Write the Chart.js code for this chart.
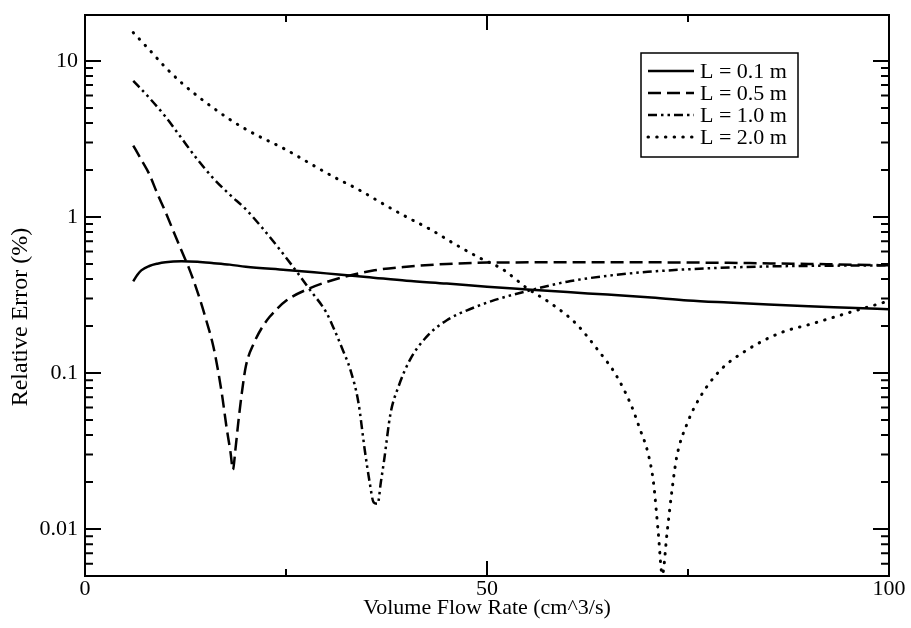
<!DOCTYPE html>
<html>
<head>
<meta charset="utf-8">
<script src="https://cdn.jsdelivr.net/npm/chart.js@4/dist/chart.umd.min.js"></script>
<style>
html, body { margin: 0; padding: 0; background: #fff; }
</style>
</head>
<body>
<canvas id="errorChart" width="911" height="628"></canvas>
<script>
// values (x = flow rate in cm^3/s, y = relative error in %)
const flowL01 = [6, 6.5, 7, 8, 9, 10, 12, 14, 16, 18, 20, 25, 30, 35, 40, 45, 50, 55, 60, 65, 70, 75, 80, 85, 90, 95, 100];
const errL01 = [0.387, 0.425, 0.455, 0.485, 0.502, 0.513, 0.52, 0.516, 0.506, 0.495, 0.48, 0.458, 0.435, 0.413, 0.39, 0.374, 0.357, 0.343, 0.33, 0.318, 0.306, 0.292, 0.283, 0.275, 0.268, 0.262, 0.256];

const flowL05 = [6, 7, 8, 9, 10, 11, 12, 13, 14, 15, 16, 17, 17.6, 18.1, 18.4, 18.7, 19.1, 19.5, 20, 21, 22, 23, 25, 28, 32, 36, 40, 45, 50, 60, 70, 80, 90, 100];
const errL05 = [2.87, 2.33, 1.88, 1.41, 1.08, 0.81, 0.61, 0.46, 0.33, 0.225, 0.145, 0.075, 0.045, 0.031, 0.024, 0.032, 0.05, 0.074, 0.11, 0.155, 0.195, 0.23, 0.29, 0.35, 0.41, 0.455, 0.48, 0.5, 0.51, 0.512, 0.512, 0.508, 0.5, 0.49];

const flowL10 = [6, 8, 10, 12, 14, 16, 18, 20, 22, 24, 26, 28, 30, 31, 32, 33, 34, 34.8, 35.4, 35.9, 36.4, 36.8, 37.2, 38, 39, 40.4, 42.5, 45, 48, 51, 55, 60, 65, 70, 78, 85, 90, 100];
const errL10 = [7.46, 5.8, 4.4, 3.2, 2.33, 1.76, 1.39, 1.12, 0.857, 0.64, 0.47, 0.34, 0.245, 0.19, 0.143, 0.105, 0.065, 0.032, 0.02, 0.0148, 0.0145, 0.02, 0.0275, 0.055, 0.082, 0.121, 0.171, 0.218, 0.258, 0.294, 0.335, 0.385, 0.42, 0.445, 0.47, 0.482, 0.486, 0.49];

const flowL20 = [6, 8, 10, 12, 14, 16, 18, 20, 22, 25, 28, 31, 34, 37, 40, 43, 46, 49, 52, 55, 58, 61, 64, 66, 68, 69, 70, 70.7, 71.3, 71.8, 72.4, 73, 73.6, 74.9, 76.5, 79, 82.3, 86.4, 90.6, 94.7, 100];
const errL20 = [15.2, 11.8, 9.1, 7.25, 5.95, 4.98, 4.22, 3.65, 3.22, 2.7, 2.2, 1.8, 1.5, 1.22, 1.0, 0.83, 0.67, 0.55, 0.46, 0.349, 0.278, 0.209, 0.136, 0.098, 0.061, 0.044, 0.031, 0.02, 0.0095, 0.0051, 0.0095, 0.0176, 0.029, 0.0475, 0.07, 0.104, 0.14, 0.18, 0.208, 0.241, 0.29];

const seriesLabels = ['L = 0.1 m', 'L = 0.5 m', 'L = 1.0 m', 'L = 2.0 m'];

const xTickLabels = [0, 50, 100];
const xMinorTicks = [25, 75];
const yTickLabels = [0.01, 0.1, 1, 10];
const yMinorTicks = [0.006, 0.007, 0.008, 0.009,
    0.02, 0.03, 0.04, 0.05, 0.06, 0.07, 0.08, 0.09,
    0.2, 0.3, 0.4, 0.5, 0.6, 0.7, 0.8, 0.9,
    2, 3, 4, 5, 6, 7, 8, 9];

const serif = '"Liberation Serif", "Times New Roman", serif';
Chart.defaults.font.family = serif;
Chart.defaults.font.size = 22;
Chart.defaults.color = '#000';

const toPoints = (xs, ys) => xs.map((x, i) => ({ x: x, y: ys[i] }));

const lineStyles = [
    { borderDash: [], borderCapStyle: 'butt' },
    { borderDash: [13, 6], borderCapStyle: 'butt' },
    { borderDash: [9, 4, 2.5, 4, 2.5, 4], borderCapStyle: 'butt' },
    { borderDash: [0.5, 8.2], borderCapStyle: 'round' }
];

const makeSet = (i, xs, ys) => ({
    label: seriesLabels[i],
    data: toPoints(xs, ys),
    borderColor: '#000',
    borderWidth: i == 3 ? 3 : 2.5,
    borderDash: lineStyles[i].borderDash,
    borderCapStyle: lineStyles[i].borderCapStyle,
    pointRadius: 0,
    cubicInterpolationMode: 'monotone',
    fill: false
});

// frame with inward tick marks on all four sides
const frameTicks = {
    id: 'frameTicks',
    afterDatasetsDraw(chart) {
        const { ctx, chartArea: a, scales: { x, y } } = chart;
        ctx.save();
        ctx.strokeStyle = '#000';
        ctx.lineWidth = 2;
        ctx.strokeRect(a.left, a.top, a.right - a.left, a.bottom - a.top);
        ctx.beginPath();
        const yTick = (v, len) => {
            const py = y.getPixelForValue(v);
            ctx.moveTo(a.left, py); ctx.lineTo(a.left + len, py);
            ctx.moveTo(a.right, py); ctx.lineTo(a.right - len, py);
        };
        const xTick = (v, len) => {
            const px = x.getPixelForValue(v);
            ctx.moveTo(px, a.bottom); ctx.lineTo(px, a.bottom - len);
            ctx.moveTo(px, a.top); ctx.lineTo(px, a.top + len);
        };
        yTickLabels.forEach(v => yTick(v, 16));
        yMinorTicks.forEach(v => yTick(v, 8));
        xTickLabels.forEach(v => xTick(v, 15));
        xMinorTicks.forEach(v => xTick(v, 7));
        ctx.stroke();

        // y axis title sits a bit below the middle of the plot in the original
        ctx.save();
        ctx.translate(21, 317);
        ctx.rotate(-Math.PI / 2);
        ctx.font = '24px ' + serif;
        ctx.fillStyle = '#000';
        ctx.textAlign = 'center';
        ctx.textBaseline = 'middle';
        ctx.fillText('Relative Error (%)', 0, 0);
        ctx.restore();
        ctx.restore();
    }
};

// boxed legend inside the plot, top right
const boxLegend = {
    id: 'boxLegend',
    afterDraw(chart) {
        const ctx = chart.ctx;
        ctx.save();
        ctx.fillStyle = '#fff';
        ctx.fillRect(641, 53, 157, 104);
        ctx.strokeStyle = '#000';
        ctx.lineWidth = 1.5;
        ctx.strokeRect(641, 53, 157, 104);
        ctx.font = '22px ' + serif;
        ctx.textBaseline = 'middle';
        ctx.fillStyle = '#000';
        chart.data.datasets.forEach((ds, i) => {
            const ly = 71 + i * 22;
            ctx.beginPath();
            ctx.lineWidth = ds.borderWidth;
            ctx.setLineDash(ds.borderDash);
            ctx.lineCap = ds.borderCapStyle;
            ctx.moveTo(648, ly);
            ctx.lineTo(694, ly);
            ctx.stroke();
            ctx.setLineDash([]);
            ctx.fillText(ds.label, 700, ly + 1);
        });
        ctx.restore();
    }
};

new Chart(document.getElementById('errorChart'), {
    type: 'line',
    data: {
        datasets: [
            makeSet(0, flowL01, errL01),
            makeSet(1, flowL05, errL05),
            makeSet(2, flowL10, errL10),
            makeSet(3, flowL20, errL20)
        ]
    },
    options: {
        responsive: false,
        animation: false,
        layout: { padding: { left: 0, top: 15, right: 22, bottom: 0 } },
        plugins: { legend: { display: false }, tooltip: { enabled: false } },
        scales: {
            x: {
                type: 'linear',
                min: 0,
                max: 100,
                grid: { display: false, drawTicks: false },
                border: { display: false },
                afterBuildTicks: s => { s.ticks = xTickLabels.map(v => ({ value: v })); },
                afterFit: s => { s.height = 52; s.paddingLeft = 0; s.paddingRight = 0; },
                ticks: { padding: 0, maxRotation: 0, callback: v => String(v) },
                title: { display: true, text: 'Volume Flow Rate (cm^3/s)', padding: { top: 0, bottom: 7 } }
            },
            y: {
                type: 'logarithmic',
                min: 0.005,
                max: 19.7,
                grid: { display: false, drawTicks: false },
                border: { display: false },
                afterBuildTicks: s => { s.ticks = yTickLabels.map(v => ({ value: v })); },
                afterFit: s => { s.width = 85; s.paddingTop = 0; s.paddingBottom = 0; },
                ticks: { padding: 7, callback: v => String(v) },
                title: { display: false }
            }
        }
    },
    plugins: [frameTicks, boxLegend]
});
</script>
</body>
</html>
